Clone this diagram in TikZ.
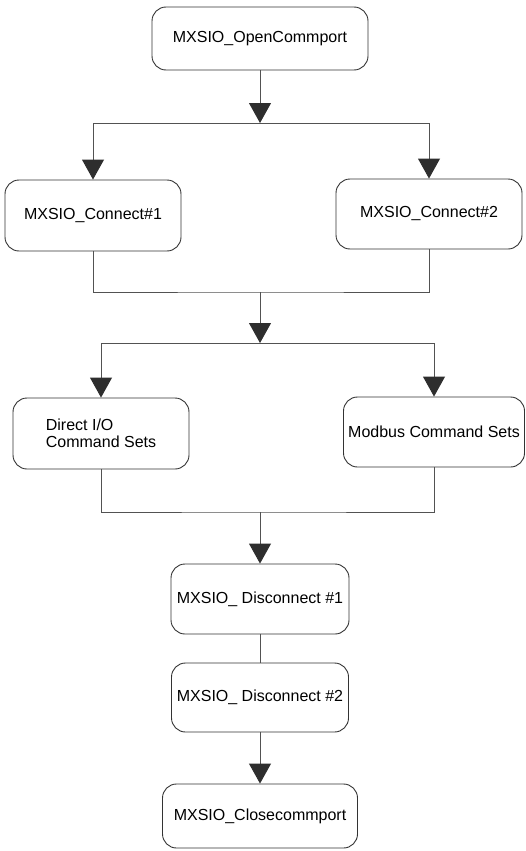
\documentclass[tikz,border=0pt]{standalone}
\usepackage{fontspec}
\setmainfont{Liberation Sans}
\usetikzlibrary{arrows.meta}
\begin{document}
\begin{tikzpicture}[x=1pt,y=-1pt,
  box/.style={draw=black!80, line width=0.9pt, rounded corners=14pt, inner sep=0pt,
    align=left, font=\fontsize{16}{17.5}\selectfont},
  link/.style={draw=black!68, line width=0.9pt},
  arr/.style={link, -{Triangle[width=22pt,length=20pt,color=black!82]}}]
\useasboundingbox (0,0) rectangle (526,851);

\node[box, minimum width=216pt, minimum height=63pt] (open) at (260,38.5) {MXSIO\_OpenCommport};
\node[box, minimum width=176pt, minimum height=71pt] (conn1) at (93,215.5) {MXSIO\_Connect\#1};
\node[box, minimum width=186pt, minimum height=70pt] (conn2) at (429,214) {MXSIO\_Connect\#2};
\node[box, minimum width=176pt, minimum height=71pt] (direct) at (101,433.5) {Direct I/O\\Command Sets};
\node[box, minimum width=181pt, minimum height=70pt] (modbus) at (434,432) {Modbus Command Sets};
\node[box, minimum width=178pt, minimum height=70pt] (disc1) at (260,599) {MXSIO\_ Disconnect \#1};
\node[box, minimum width=177pt, minimum height=69pt] (disc2) at (260,697.5) {MXSIO\_ Disconnect \#2};
\node[box, minimum width=195pt, minimum height=64pt] (close) at (260,816) {MXSIO\_Closecommport};

\coordinate (split1) at (260,123);
\coordinate (join1) at (260,292);
\coordinate (split2) at (260,343);
\coordinate (join2) at (260,512);

\draw[arr] (open) -- (split1);
\foreach \n in {conn1,conn2}
  \draw[arr] (split1) -| (\n.north);
\draw[link] (conn1.south) |- (join1) -| (conn2.south);
\draw[arr] (join1) -- (split2);
\foreach \n in {direct,modbus}
  \draw[arr] (split2) -| (\n.north);
\draw[link] (direct.south) |- (join2) -| (modbus.south);
\draw[arr] (join2) -- (disc1);
\draw[link] (disc1) -- (disc2);
\draw[arr] (disc2) -- (close);
\end{tikzpicture}
\end{document}
